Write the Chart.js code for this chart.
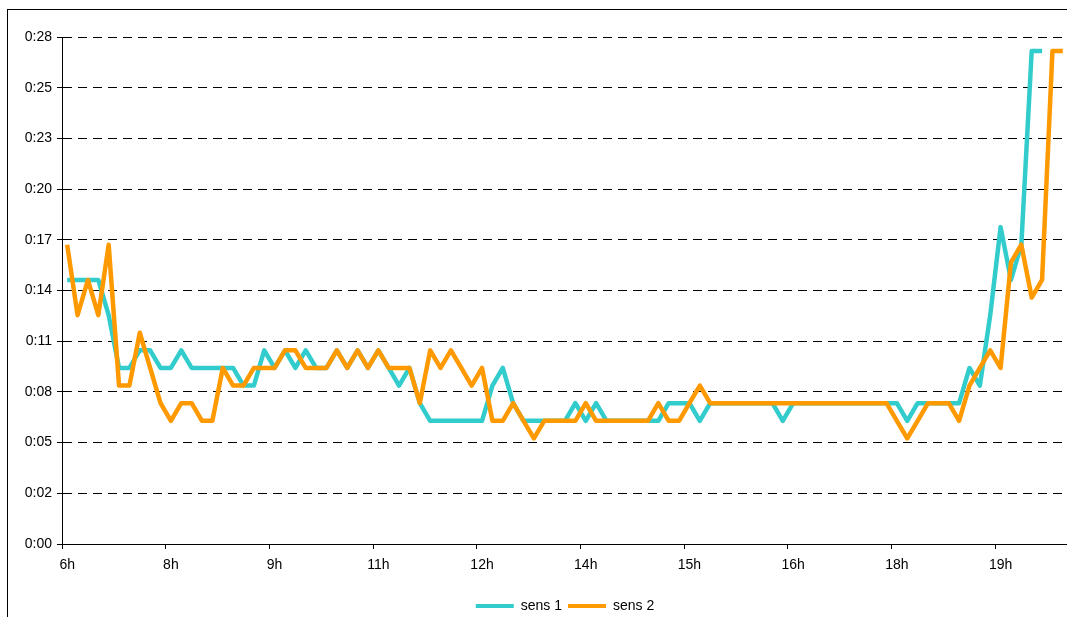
<!DOCTYPE html>
<html>
<head>
<meta charset="utf-8">
<script src="https://cdn.jsdelivr.net/npm/chart.js@4/dist/chart.umd.min.js"></script>
<style>
  html, body { margin: 0; padding: 0; background: #fff; overflow: hidden; }
  canvas { display: block; }
</style>
</head>
<body>
<canvas id="c" width="1080" height="623"></canvas>
<script>
// ---- data (values in minutes) ----
const xTickLabels = ['6h', '8h', '9h', '11h', '12h', '14h', '15h', '16h', '18h', '19h'];
const yTickLabels = ['0:00', '0:02', '0:05', '0:08', '0:11', '0:14', '0:17', '0:20', '0:23', '0:25', '0:28'];
const yTickStep = 2.88; // minutes between two y ticks

const sens1 = [
  15, 15, 15, 15, 13, 10, 10, 11, 11, 10,
  10, 11, 10, 10, 10, 10, 10, 9, 9, 11,
  10, 11, 10, 11, 10, 10, 11, 10, 11, 10,
  11, 10, 9, 10, 8, 7, 7, 7, 7, 7,
  7, 9, 10, 8, 7, 7, 7, 7, 7, 8,
  7, 8, 7, 7, 7, 7, 7, 7, 8, 8,
  8, 7, 8, 8, 8, 8, 8, 8, 8, 7,
  8, 8, 8, 8, 8, 8, 8, 8, 8, 8,
  8, 7, 8, 8, 8, 8, 8, 10, 9, 13,
  18, 15, 17, 28, 28
];
const sens2 = [
  17, 13, 15, 13, 17, 9, 9, 12, 10, 8,
  7, 8, 8, 7, 7, 10, 9, 9, 10, 10,
  10, 11, 11, 10, 10, 10, 11, 10, 11, 10,
  11, 10, 10, 10, 8, 11, 10, 11, 10, 9,
  10, 7, 7, 8, 7, 6, 7, 7, 7, 7,
  8, 7, 7, 7, 7, 7, 7, 8, 7, 7,
  8, 9, 8, 8, 8, 8, 8, 8, 8, 8,
  8, 8, 8, 8, 8, 8, 8, 8, 8, 8,
  7, 6, 7, 8, 8, 8, 7, 9, 10, 11,
  10, 16, 17, 14, 15, 28, 28
];
const seriesNames = ['sens 1', 'sens 2'];
const seriesColors = ['#33CCCC', '#FF9900'];

// one category per sample, a label every 10 samples
const categories = sens2.map((_, i) => (i % 10 === 0 ? xTickLabels[i / 10] : ''));

const FONT = { family: "'Liberation Sans', Arial, sans-serif", size: 14 };

const frame = {
  id: 'frame',
  beforeDraw(chart) {
    const ctx = chart.ctx;
    ctx.save();
    ctx.fillStyle = '#fff';
    ctx.fillRect(0, 0, chart.width, chart.height);
    ctx.strokeStyle = '#000';
    ctx.lineWidth = 1;
    ctx.strokeRect(7.5, 9.5, 3000, 3000);
    ctx.restore();
  }
};

new Chart(document.getElementById('c'), {
  type: 'line',
  data: {
    labels: categories,
    datasets: [
      { label: seriesNames[0], data: sens1, borderColor: seriesColors[0], backgroundColor: seriesColors[0], order: 1 },
      { label: seriesNames[1], data: sens2, borderColor: seriesColors[1], backgroundColor: seriesColors[1], order: 0 }
    ]
  },
  options: {
    responsive: false,
    animation: false,
    devicePixelRatio: 1,
    layout: { padding: { left: 0, top: 37, right: 12, bottom: 0 } },
    elements: {
      line: { borderWidth: 4.5, tension: 0, borderJoinStyle: 'round', borderCapStyle: 'butt', fill: false },
      point: { radius: 0, hoverRadius: 0 }
    },
    plugins: {
      tooltip: { enabled: false },
      legend: {
        position: 'bottom',
        fullSize: false,
        labels: {
          boxWidth: 38,
          boxHeight: 4,
          padding: 6,
          color: '#000',
          font: FONT,
          sort: (a, b) => a.datasetIndex - b.datasetIndex,
          generateLabels: (chart) => Chart.defaults.plugins.legend.labels.generateLabels(chart).map(l => Object.assign(l, { lineWidth: 0, fillStyle: seriesColors[l.datasetIndex] }))
        }
      }
    },
    scales: {
      x: {
        type: 'category',
        offset: true,
        grid: {
          offset: true,
          drawOnChartArea: false,
          tickLength: 5,
          color: '#000',
          tickColor: (ctx) => (ctx.index % 10 === 0 ? '#000' : 'rgba(0,0,0,0)')
        },
        border: { color: '#000', width: 1 },
        ticks: {
          autoSkip: false,
          maxRotation: 0,
          minRotation: 0,
          padding: 8,
          color: '#000',
          font: FONT,
          callback: (v, i) => categories[i]
        },
        afterFit: (s) => { s.height = 49; }
      },
      y: {
        min: 0,
        max: yTickStep * (yTickLabels.length - 1),
        afterBuildTicks: (scale) => { scale.ticks = yTickLabels.map((_, i) => ({ value: i * yTickStep })); },
        afterFit: (s) => { s.width = 62; },
        grid: { color: '#000', lineWidth: 1, tickLength: 5, tickColor: '#000' },
        border: { color: '#000', width: 1, dash: [9, 6] },
        ticks: {
          padding: 5,
          color: '#000',
          font: FONT,
          callback: (v, i) => yTickLabels[i]
        }
      }
    }
  },
  plugins: [frame]
});
</script>
</body>
</html>
